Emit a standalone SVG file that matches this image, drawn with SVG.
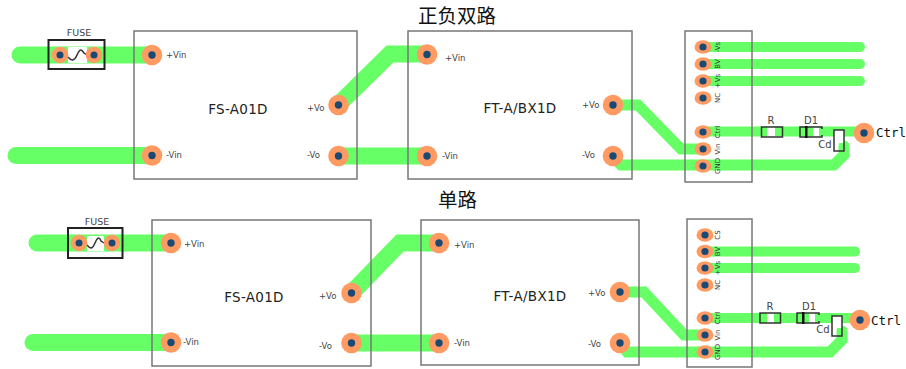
<svg xmlns="http://www.w3.org/2000/svg" width="906" height="369" viewBox="0 0 906 369">
<style>
text{font-family:"DejaVu Sans","Liberation Sans",sans-serif;fill:#444}
.title{font-family:"Noto Sans CJK SC","Noto Sans",sans-serif;font-size:19.500px;fill:#111;text-anchor:middle}
.name{font-size:13.500px;fill:#222;text-anchor:middle;letter-spacing:.3px}
.pin{font-size:8.500px}
.tiny{font-size:7px;fill:#333;text-anchor:middle}
.part{font-size:10px;text-anchor:middle}
.ctrl{font-size:12.500px;fill:#111;font-family:"DejaVu Sans Mono",monospace}
.t1{fill:none;stroke:#66FF66;stroke-width:17;stroke-linecap:round;stroke-linejoin:miter}
.t2{fill:none;stroke:#66FF66;stroke-width:10;stroke-linecap:round;stroke-linejoin:miter}
.body{fill:none;stroke:#777;stroke-width:1.5}
.comp{fill:none;stroke:#333;stroke-width:1.5}
.fuse{fill:none;stroke:#222;stroke-width:2}
.wave{fill:none;stroke:#333;stroke-width:1.5}
.p1{fill:#FF9B62}.dot{fill:#1A4A73}
.bare{fill:#fff}
</style>
<defs>
<g id="padL"><circle r="10.300" class="p1"/><circle r="3.700" class="dot"/></g>
<g id="padS"><circle r="8.300" class="p1"/><circle r="3.500" class="dot"/></g>
<g id="padH"><ellipse rx="8.500" ry="6.800" class="p1"/><circle r="3.600" class="dot"/></g>
</defs>

<text class="title" x="457" y="23">正负双路</text>
<text class="title" x="457.500" y="207">单路</text>

<g id="connectors">
<path class="t1" d="M20 55H152"/>
<path class="t1" d="M16 155.500H152"/>
<path class="t1" d="M338 105L390 54H427"/>
<path class="t1" d="M338 156H427"/>
<path class="t2" style="stroke-width:11" d="M613 105H638L681 149H703"/>
<path class="t2" style="stroke-width:11" d="M613 156L621 165H834L844 155V146"/>
<path class="t2" d="M703 47H860M703 64H860M703 81H860M703 131.500H860"/>
<path class="t1" d="M37 243H171"/>
<path class="t1" d="M33 342.500H171"/>
<path class="t1" d="M351.500 293L400 243H439"/>
<path class="t1" d="M351.500 343H439"/>
<path class="t2" style="stroke-width:11" d="M620 292H644L684 335H705"/>
<path class="t2" style="stroke-width:11" d="M620 343L627 352H830L842 340V331"/>
<path class="t2" d="M705 251.500H855M705 268H855M705 318H858"/>
</g>

<g id="fs-top"><rect class="body" x="134" y="31" width="223" height="148"/><text class="name" x="238" y="114">FS-A01D</text></g>
<g id="ft-top"><rect class="body" x="408" y="31" width="224" height="148"/><text class="name" x="520" y="113">FT-A/BX1D</text></g>
<g id="hdr-top"><rect class="body" x="685" y="31" width="67" height="151"/></g>
<g id="fs-bot"><rect class="body" x="152" y="220" width="219" height="146"/><text class="name" x="254" y="302">FS-A01D</text></g>
<g id="ft-bot"><rect class="body" x="421" y="220" width="218" height="145"/><text class="name" x="530" y="301">FT-A/BX1D</text></g>
<g id="hdr-bot"><rect class="body" x="687" y="219" width="65" height="148"/></g>

<g id="fuse-top"><rect class="fuse" x="48.500" y="40" width="56" height="29"/>
<rect x="68" y="47" width="19" height="16" fill="#fff"/>
<path class="wave" d="M68 57C72 62 75 60 77 55S81 48 84 53L87 55"/>
<use href="#padS" x="60" y="55"/><use href="#padS" x="94" y="55"/>
<text class="part" x="79" y="36" style="font-size:9.500px">FUSE</text></g>
<g id="fuse-bot"><rect class="fuse" x="68" y="228" width="54.500" height="30"/>
<rect x="87" y="236" width="17" height="15" fill="#fff"/>
<path class="wave" d="M87 245C91 250 93 248 95 243S99 236 101 241L104 243"/>
<use href="#padS" x="79" y="243"/><use href="#padS" x="112" y="243"/>
<text class="part" x="97" y="225" style="font-size:9.500px">FUSE</text></g>

<g id="pads-top">
<use href="#padL" x="152" y="55"/><use href="#padL" x="152" y="155.500"/>
<use href="#padL" x="338.500" y="105"/><use href="#padL" x="338.500" y="156"/>
<use href="#padL" x="427" y="54.500"/><use href="#padL" x="427" y="156"/>
<use href="#padL" x="613" y="105"/><use href="#padL" x="613" y="156"/>
<use href="#padL" x="864" y="133"/>
<use href="#padH" x="703" y="47"/><use href="#padH" x="703" y="64"/><use href="#padH" x="703" y="81"/><use href="#padH" x="703" y="98"/>
<use href="#padH" x="703" y="132"/><use href="#padH" x="703" y="149"/><use href="#padH" x="703" y="166"/>
</g>
<g id="pads-bot">
<use href="#padL" x="171" y="243"/><use href="#padL" x="171" y="342.500"/>
<use href="#padL" x="351.500" y="293"/><use href="#padL" x="351.500" y="343"/>
<use href="#padL" x="439" y="243"/><use href="#padL" x="439" y="343"/>
<use href="#padL" x="620" y="292"/><use href="#padL" x="620" y="343"/>
<use href="#padL" x="860" y="320"/>
<use href="#padH" x="705" y="235"/><use href="#padH" x="705" y="251.500"/><use href="#padH" x="705" y="268"/><use href="#padH" x="705" y="285"/>
<use href="#padH" x="705" y="318"/><use href="#padH" x="705" y="335"/><use href="#padH" x="705" y="352"/>
</g>

<g id="pin-labels">
<text class="pin" x="166" y="58">+Vin</text><text class="pin" x="166" y="158">-Vin</text>
<text class="pin" x="307" y="111">+Vo</text><text class="pin" x="307" y="158">-Vo</text>
<text class="pin" x="445" y="61">+Vin</text><text class="pin" x="442" y="159">-Vin</text>
<text class="pin" x="582" y="108">+Vo</text><text class="pin" x="582" y="158">-Vo</text>
<text class="pin" x="184" y="247">+Vin</text><text class="pin" x="183" y="345">-Vin</text>
<text class="pin" x="319" y="299">+Vo</text><text class="pin" x="319" y="349">-Vo</text>
<text class="pin" x="454" y="248">+Vin</text><text class="pin" x="454" y="346">-Vin</text>
<text class="pin" x="588" y="296">+Vo</text><text class="pin" x="588" y="347">-Vo</text>
<text class="tiny" transform="translate(720,47) rotate(-90)">-Vs</text>
<text class="tiny" transform="translate(720,64) rotate(-90)">BV</text>
<text class="tiny" transform="translate(720,81) rotate(-90)">+Vs</text>
<text class="tiny" transform="translate(720,98) rotate(-90)">NC</text>
<text class="tiny" transform="translate(720,132) rotate(-90)">Ctrl</text>
<text class="tiny" transform="translate(720,149) rotate(-90)">Vin</text>
<text class="tiny" transform="translate(720,166) rotate(-90)">GND</text>
<text class="tiny" transform="translate(720,235) rotate(-90)">CS</text>
<text class="tiny" transform="translate(720,251.500) rotate(-90)">BV</text>
<text class="tiny" transform="translate(720,268) rotate(-90)">+Vs</text>
<text class="tiny" transform="translate(720,285) rotate(-90)">NC</text>
<text class="tiny" transform="translate(720,318) rotate(-90)">Ctrl</text>
<text class="tiny" transform="translate(720,335) rotate(-90)">Vin</text>
<text class="tiny" transform="translate(720,352) rotate(-90)">GND</text>
<text class="ctrl" x="876" y="137">Ctrl</text>
<text class="ctrl" x="871" y="325">Ctrl</text>
</g>

<g id="parts-top">
<rect class="bare" x="767" y="127" width="8" height="10"/><rect class="comp" x="761.500" y="127" width="21" height="10"/>
<text class="part" x="771" y="124">R</text>
<rect class="bare" x="813" y="127" width="6" height="10"/>
<path class="comp" d="M804 127H800V137H804M817 127H822V129M817 137H822V135M800 127H822M800 137H822"/>
<rect x="805" y="126" width="2.500" height="12" fill="#111"/>
<text class="part" x="811" y="124">D1</text>
<rect class="bare" x="834" y="130" width="10" height="13"/><rect class="comp" x="834" y="130" width="10" height="21"/>
<text class="part" x="825" y="148">Cd</text>
</g>
<g id="parts-bot">
<rect class="bare" x="767" y="313" width="7" height="10"/><rect class="comp" x="760" y="313" width="20.500" height="10"/>
<text class="part" x="770" y="310">R</text>
<rect class="bare" x="809" y="313" width="6" height="10"/>
<path class="comp" d="M801 313H797V323H801M814 313H819V315M814 323H819V321M797 313H819M797 323H819"/>
<rect x="802" y="312" width="2.500" height="12" fill="#111"/>
<text class="part" x="809" y="310">D1</text>
<rect class="bare" x="832" y="316" width="10" height="12"/><rect class="comp" x="832" y="316" width="10" height="20"/>
<text class="part" x="823" y="333">Cd</text>
</g>
</svg>
